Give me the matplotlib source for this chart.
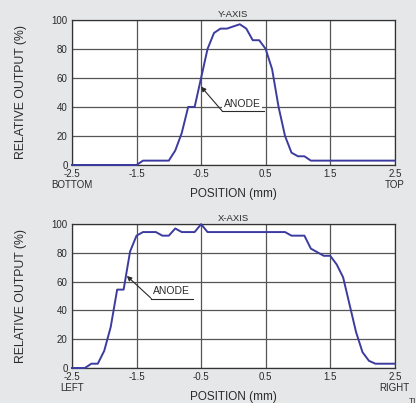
import matplotlib.pyplot as plt

plt.rcParams['font.family'] = ['Liberation Sans', 'DejaVu Sans']

# Y-axis scan (top panel)
y_pos = [-2.5, -1.5, -1.4, -1.0, -0.9, -0.8, -0.7, -0.6, -0.5, -0.4, -0.3, -0.2,
         -0.1, 0.0, 0.1, 0.2, 0.3, 0.4, 0.5, 0.6, 0.7, 0.8, 0.9, 1.0, 1.1, 1.2, 2.5]
y_out = [0, 0, 3, 3, 10, 22, 40, 40, 60, 80, 91, 94,
         94, 95.5, 97, 94, 86, 86, 80, 66, 40, 20, 8.5, 6, 6, 3, 3]

# X-axis scan (bottom panel)
x_pos = [-2.5, -2.3, -2.2, -2.1, -2.0, -1.9, -1.8, -1.7, -1.6, -1.5, -1.4, -1.2,
         -1.1, -1.0, -0.9, -0.8, -0.6, -0.5, -0.4, 0.8, 0.9, 1.1, 1.2, 1.4, 1.5,
         1.6, 1.7, 1.8, 1.9, 2.0, 2.1, 2.2, 2.5]
x_out = [0, 0, 3, 3, 12, 28.5, 54.5, 54.5, 81, 92, 94.5, 94.5,
         92, 92, 97, 94.5, 94.5, 100, 94.5, 94.5, 92, 92, 83, 78, 78,
         72, 63, 44, 25, 11, 5, 3, 3]

xticks = [-2.5, -1.5, -0.5, 0.5, 1.5, 2.5]
xticklabels = ['-2.5', '-1.5', '-0.5', '0.5', '1.5', '2.5']
yticks = [0, 20, 40, 60, 80, 100]

bg = '#e6e7e8'
line_col = '#3b3ba0'
grid_col = '#555555'
txt = '#2a2a2a'

fig = plt.figure(figsize=(4.16, 4.03), dpi=100, facecolor=bg)
ax1 = fig.add_axes([0.173, 0.5906, 0.776, 0.360])
ax2 = fig.add_axes([0.173, 0.0868, 0.776, 0.357])

panels = [
    (ax1, y_pos, y_out, 'Y-AXIS', 'BOTTOM', 'TOP', (-0.5, 54), (-0.17, 37)),
    (ax2, x_pos, x_out, 'X-AXIS', 'LEFT', 'RIGHT', (-1.65, 64), (-1.27, 48.3)),
]

for ax, xs, ys, title, lo_lab, hi_lab, tip, tail in panels:
    ax.set_facecolor('white')
    ax.set_xlim(-2.5, 2.5)
    ax.set_ylim(0, 100)
    ax.set_xticks(xticks)
    ax.set_xticklabels(xticklabels)
    ax.set_yticks(yticks)
    ax.tick_params(length=0, labelsize=7, pad=3, colors=txt)
    ax.grid(True, color=grid_col, linewidth=0.9)
    ax.set_axisbelow(True)
    for s in ax.spines.values():
        s.set_color('#333333')
        s.set_linewidth(0.9)
    ax.plot(xs, ys, color=line_col, linewidth=1.4, clip_on=False, zorder=3)
    ax.set_title(title, fontsize=6.8, pad=2, color=txt)
    ax.set_ylabel('RELATIVE OUTPUT (%)', fontsize=8.8, color=txt)
    ax.yaxis.set_label_coords(-0.138, 0.5)
    ax.set_xlabel('POSITION (mm)', fontsize=8.5, color=txt)
    ax.xaxis.set_label_coords(0.5, -0.16)
    ax.text(0.0, -0.14, lo_lab, transform=ax.transAxes, ha='center', va='center',
            fontsize=7, color=txt)
    ax.text(1.0, -0.14, hi_lab, transform=ax.transAxes, ha='center', va='center',
            fontsize=7, color=txt)
    # ANODE callout with underline
    ax.annotate('', xy=tip, xytext=tail,
                arrowprops=dict(arrowstyle='-|>', color=txt, lw=0.8,
                                mutation_scale=7, shrinkA=0, shrinkB=0), zorder=4)
    ax.text(tail[0] + 0.02, tail[1] + 1.5, 'ANODE', fontsize=7.5, ha='left', va='bottom',
            color=txt, zorder=4,
            bbox=dict(facecolor='white', edgecolor='none', pad=1))
    ax.plot([tail[0], tail[0] + 0.65], [tail[1], tail[1]], color=txt, lw=0.8, zorder=4)

fig.text(0.983, -0.004, 'TI', fontsize=6, color=txt, ha='left', va='bottom')

fig.savefig('out.png', dpi=100, facecolor=bg)
